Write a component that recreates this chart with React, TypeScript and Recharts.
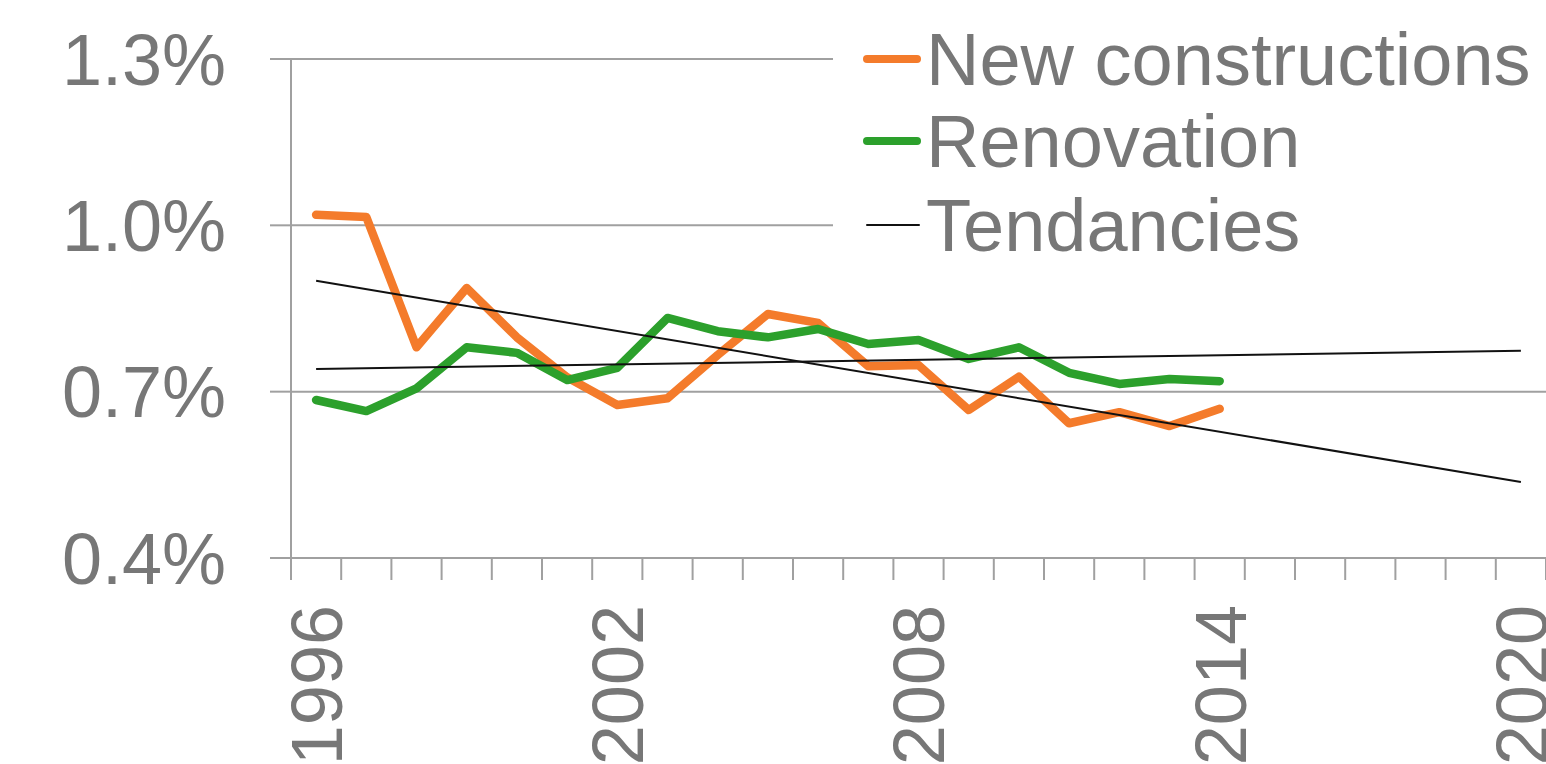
import React from 'react';
import { LineChart, Line, XAxis, YAxis, CartesianGrid, Legend } from 'recharts';

// valeurs (part en %)
const years = [
  1996, 1997, 1998, 1999, 2000, 2001, 2002, 2003, 2004, 2005, 2006, 2007, 2008,
  2009, 2010, 2011, 2012, 2013, 2014,
];
const newConstructions = [
  1.019, 1.015, 0.78, 0.887, 0.798, 0.726, 0.676, 0.688, 0.766, 0.84, 0.824, 0.746, 0.748,
  0.667, 0.727, 0.643, 0.663, 0.638, 0.669,
];
const renovation = [
  0.685, 0.665, 0.706, 0.78, 0.77, 0.721, 0.743, 0.833, 0.809, 0.798, 0.813, 0.786, 0.793,
  0.759, 0.78, 0.734, 0.714, 0.723, 0.719,
];

// droites de tendance (debut / fin)
const trendYears = [1996, 2020];
const trendNew = [0.9, 0.537];
const trendRenovation = [0.741, 0.774];

const yTicks = [0.4, 0.7, 1.0, 1.3];
const xLabelYears = [1996, 2002, 2008, 2014, 2020];
const legendNames = ['New constructions', 'Renovation', 'Tendancies'];

const COLORS = {
  orange: '#f47b2b',
  green: '#2ca02c',
  trend: '#111111',
  axis: '#a0a0a0',
  text: '#777777',
};
const FONT = '"Liberation Sans", Arial, sans-serif';
const FONT_SIZE = 72;
const LEGEND_FONT_SIZE = 74;

const data = years.map((year, i) => ({
  year,
  newConstructions: newConstructions[i],
  renovation: renovation[i],
}));
const trendNewData = trendYears.map((year, i) => ({ year, value: trendNew[i] }));
const trendRenovationData = trendYears.map((year, i) => ({ year, value: trendRenovation[i] }));

// graduations entre les annees + etiquettes
const minorTicks = Array.from({ length: 26 }, (_, i) => 1995.5 + i);
const xTicks = [...minorTicks, ...xLabelYears].sort((a, b) => a - b);

const XTick = (props: any) => {
  const { x, y, payload } = props;
  const v = payload.value;
  if (Number.isInteger(v)) {
    if (!xLabelYears.includes(v)) return null;
    const ty = y + 47;
    return (
      <text
        x={x}
        y={ty}
        dy="0.36em"
        transform={`rotate(-90, ${x}, ${ty})`}
        textAnchor="end"
        fill={COLORS.text}
        fontFamily={FONT}
        fontSize={FONT_SIZE}
      >
        {v}
      </text>
    );
  }
  return <line x1={x} x2={x} y1={y} y2={y + 22} stroke={COLORS.axis} strokeWidth={2} />;
};

const legendColors = [COLORS.orange, COLORS.green, COLORS.trend];
const legendWidths = [8, 8, 2];
const legendRows = [59, 141, 225];

const LegendBox = () => (
  <svg width={713} height={282} style={{ display: 'block', background: '#fff' }}>
    {legendNames.map((name, i) => (
      <g key={name}>
        <line
          x1={i === 2 ? 34 : 34}
          x2={i === 2 ? 86 : 84}
          y1={legendRows[i]}
          y2={legendRows[i]}
          stroke={legendColors[i]}
          strokeWidth={legendWidths[i]}
          strokeLinecap="round"
        />
        <text
          x={93}
          y={legendRows[i]}
          dy="0.355em"
          fill={COLORS.text}
          fontFamily={FONT}
          fontSize={LEGEND_FONT_SIZE}
        >
          {name}
        </text>
      </g>
    ))}
  </svg>
);

export default function App() {
  return (
    <div style={{ position: 'absolute', left: 0, top: 0, background: '#fff' }}>
      <LineChart
        width={1546}
        height={764}
        data={data}
        margin={{ top: 59, right: 0, left: 0, bottom: 0 }}
      >
        <CartesianGrid horizontal vertical={false} stroke={COLORS.axis} strokeWidth={2} />
        <XAxis
          dataKey="year"
          type="number"
          domain={[1995.5, 2020.5]}
          allowDataOverflow
          ticks={xTicks}
          interval={0}
          tick={<XTick />}
          tickLine={false}
          tickSize={0}
          tickMargin={0}
          height={206}
          axisLine={{ stroke: COLORS.axis, strokeWidth: 2 }}
        />
        <YAxis
          type="number"
          domain={[0.4, 1.3]}
          ticks={yTicks}
          interval={0}
          width={291}
          tickSize={21}
          tickMargin={44}
          tickFormatter={(v: number) => `${v.toFixed(1)}%`}
          tick={{ fill: COLORS.text, fontFamily: FONT, fontSize: FONT_SIZE }}
          tickLine={{ stroke: COLORS.axis, strokeWidth: 2 }}
          axisLine={{ stroke: COLORS.axis, strokeWidth: 2 }}
        />
        <Legend
          layout="vertical"
          align="center"
          verticalAlign="middle"
          content={<LegendBox />}
          wrapperStyle={{ left: 833, top: 0, width: 713, height: 282 }}
        />
        <Line
          dataKey="newConstructions"
          stroke={COLORS.orange}
          strokeWidth={8.5}
          strokeLinecap="round"
          strokeLinejoin="round"
          dot={false}
          isAnimationActive={false}
        />
        <Line
          dataKey="renovation"
          stroke={COLORS.green}
          strokeWidth={8.5}
          strokeLinecap="round"
          strokeLinejoin="round"
          dot={false}
          isAnimationActive={false}
        />
        <Line
          data={trendNewData}
          dataKey="value"
          stroke={COLORS.trend}
          strokeWidth={2}
          dot={false}
          isAnimationActive={false}
        />
        <Line
          data={trendRenovationData}
          dataKey="value"
          stroke={COLORS.trend}
          strokeWidth={2}
          dot={false}
          isAnimationActive={false}
        />
      </LineChart>
    </div>
  );
}
